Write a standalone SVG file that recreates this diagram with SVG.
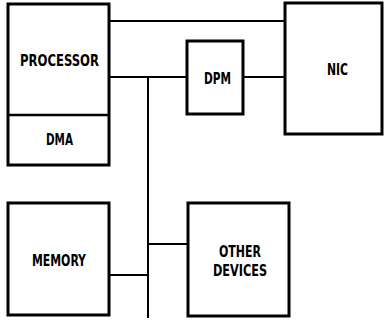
<svg xmlns="http://www.w3.org/2000/svg" width="385" height="320" viewBox="0 0 385 320">
<style>
.box{fill:#fff;stroke:#000;stroke-width:3}
.ln{fill:none;stroke:#000;stroke-width:2}
text{font-family:"DejaVu Sans Condensed","DejaVu Sans",sans-serif;font-weight:bold;font-size:15.5px;text-anchor:middle;fill:#000}
</style>
<rect width="385" height="320" fill="#fff"/>
<g id="connectors">
<line class="ln" x1="109" y1="21" x2="285" y2="21"/>
<line class="ln" x1="109" y1="77" x2="187" y2="77"/>
<line class="ln" x1="243" y1="77" x2="285" y2="77"/>
<line class="ln" x1="148" y1="77" x2="148" y2="318"/>
<line class="ln" x1="109" y1="275" x2="148" y2="275"/>
<line class="ln" x1="148" y1="244" x2="188" y2="244"/>
</g>
<g id="processor">
<rect class="box" x="8" y="4" width="101" height="161"/>
<line class="ln" x1="8" y1="115" x2="109" y2="115" style="stroke-width:2.5"/>
<text x="59.5" y="66" textLength="79" lengthAdjust="spacingAndGlyphs">PROCESSOR</text>
<text x="59.5" y="145" textLength="27" lengthAdjust="spacingAndGlyphs">DMA</text>
</g>
<g id="dpm">
<rect class="box" x="187" y="41" width="56" height="73"/>
<text x="217.5" y="84" textLength="27" lengthAdjust="spacingAndGlyphs">DPM</text>
</g>
<g id="nic">
<rect class="box" x="285" y="3" width="97" height="131"/>
<text x="337.5" y="75" textLength="21" lengthAdjust="spacingAndGlyphs">NIC</text>
</g>
<g id="memory">
<rect class="box" x="8" y="203" width="101" height="112"/>
<text x="59" y="266" textLength="54" lengthAdjust="spacingAndGlyphs">MEMORY</text>
</g>
<g id="other">
<rect class="box" x="188" y="203" width="101" height="113"/>
<text x="240" y="257" textLength="42" lengthAdjust="spacingAndGlyphs">OTHER</text>
<text x="240" y="276" textLength="54" lengthAdjust="spacingAndGlyphs">DEVICES</text>
</g>
</svg>
